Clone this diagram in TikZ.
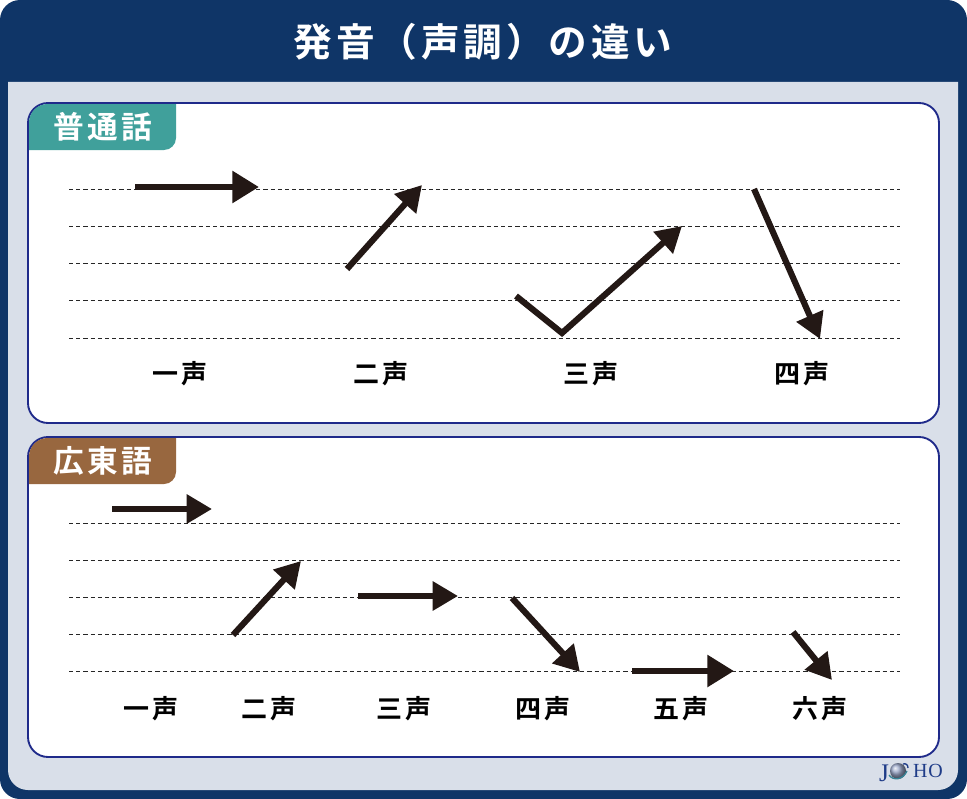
\documentclass[tikz,border=0pt]{standalone}
\usepackage{fontspec}
\setmainfont{Noto Sans CJK JP}[BoldFont={Noto Sans CJK JP Bold}]
\newfontfamily\logofont{Liberation Serif}
\usetikzlibrary{arrows.meta,positioning}
\definecolor{navy}{HTML}{0F3567}
\definecolor{pale}{HTML}{D9DFE9}
\definecolor{edge}{HTML}{1F2A8A}
\definecolor{teal}{HTML}{40A09B}
\definecolor{brown}{HTML}{98673F}
\definecolor{ink}{HTML}{231815}
\definecolor{logo}{HTML}{1F3C88}
\tikzset{
  tone/.style={draw=ink,line width=5.1pt,-{Triangle[length=20pt,width=23pt]}},
  toneshort/.style={draw=ink,line width=4.6pt,-{Triangle[length=19pt,width=21pt]}},
  guide/.style={draw=black!85,line width=0.5pt,dash pattern=on 3.2pt off 2.2pt},
  panel/.style={draw=edge,fill=white,line width=1.4pt,rounded corners=15pt},
  tonelabel/.style={font=\bfseries\fontsize{19.5}{19.5}\selectfont\addfontfeature{LetterSpace=12},text=black},
  tablabel/.style={font=\bfseries\fontsize{23}{23}\selectfont\addfontfeature{LetterSpace=10},text=white},
}
\begin{document}
\begin{tikzpicture}[x=0.75pt,y=-0.75pt]
  \useasboundingbox (0,0) rectangle (967,799);
  % frame
  \fill[navy,rounded corners=15pt] (0,0) rectangle (967,799);
  \fill[pale] (8,82) [rounded corners=15pt] -- (8,790) -- (958,790) [sharp corners] -- (958,82) -- cycle;
  \node[font=\bfseries\fontsize{29}{29}\selectfont\addfontfeature{LetterSpace=10},text=white] (title) at (483,42) {発音（声調）の違い};

  % panels
  \draw[panel] (28,103) rectangle (939,423);
  \draw[panel] (28,437) rectangle (939,757);
  \fill[teal] (29,150) [rounded corners=14pt] -- (29,104) [sharp corners] -- (176,104) [rounded corners=9pt] -- (176,150) [sharp corners] -- cycle;
  \fill[brown] (29,484) [rounded corners=14pt] -- (29,438) [sharp corners] -- (176,438) [rounded corners=9pt] -- (176,484) [sharp corners] -- cycle;
  \node[tablabel] (putonghua) at (103,127) {普通話};
  \node[tablabel] (guangdong) at (103,461) {広東語};

  % guide lines
  \foreach \y in {189,226,263,300,338} \draw[guide] (69,\y) -- (900,\y);
  \foreach \y in {523,560,597,634,671} \draw[guide] (69,\y) -- (900,\y);

  % first panel
  \coordinate (a1s) at (135,187);
  \coordinate (a1e) at (259,187);
  \coordinate (a2s) at (347,269);
  \coordinate (a2e) at (422,185);
  \coordinate (a3s) at (516,296);
  \coordinate (a3m) at (562,333);
  \coordinate (a3e) at (682,226);
  \coordinate (a4s) at (754,189);
  \coordinate (a4e) at (820,339);
  \draw[tone] (a1s) -- (a1e);
  \draw[toneshort] (a2s) -- (a2e);
  \draw[toneshort,line join=miter] (a3s) -- (a3m) -- (a3e);
  \draw[toneshort] (a4s) -- (a4e);
  \node[tonelabel] (t1) at (180,374) {一声};
  \node[tonelabel] (t2) at (381,374) {二声};
  \node[tonelabel] (t3) at (591,374) {三声};
  \node[tonelabel] (t4) at (802,374) {四声};

  % second panel
  \coordinate (b1s) at (112,509);
  \coordinate (b1e) at (212,509);
  \coordinate (b2s) at (233,635);
  \coordinate (b2e) at (301,561);
  \coordinate (b3s) at (358,596);
  \coordinate (b3e) at (458,596);
  \coordinate (b4s) at (512,598);
  \coordinate (b4e) at (580,672);
  \coordinate (b5s) at (632,671);
  \coordinate (b5e) at (734,671);
  \coordinate (b6s) at (793,632);
  \coordinate (b6e) at (832,680);
  \draw[toneshort] (b1s) -- (b1e);
  \draw[toneshort] (b2s) -- (b2e);
  \draw[toneshort] (b3s) -- (b3e);
  \draw[toneshort] (b4s) -- (b4e);
  \draw[tone] (b5s) -- (b5e);
  \draw[toneshort] (b6s) -- (b6e);
  \node[tonelabel] (c1) at (151,709) {一声};
  \node[tonelabel] (c2) at (269,709) {二声};
  \node[tonelabel] (c3) at (404,709) {三声};
  \node[tonelabel] (c4) at (543,709) {四声};
  \node[tonelabel] (c5) at (681,709) {五声};
  \node[tonelabel] (c6) at (820,709) {六声};

  % logo
  \shade[ball color=logo!45] (898,771) circle (8);
  \draw[teal!70!logo,line width=1pt] (889,775) .. controls (893,781) and (903,780) .. (907,771);
  \draw[logo,line width=1pt] (903,764) .. controls (906,763) and (908,765) .. (908,768);
  \node[font=\logofont\fontsize{19}{19}\selectfont,text=logo,inner sep=0pt] (logoj) at (884,773) {J};
  \node[font=\logofont\fontsize{15}{15}\selectfont\addfontfeature{LetterSpace=4},text=logo,inner sep=0pt] (logoho) at (928,771) {HO};
\end{tikzpicture}
\end{document}
